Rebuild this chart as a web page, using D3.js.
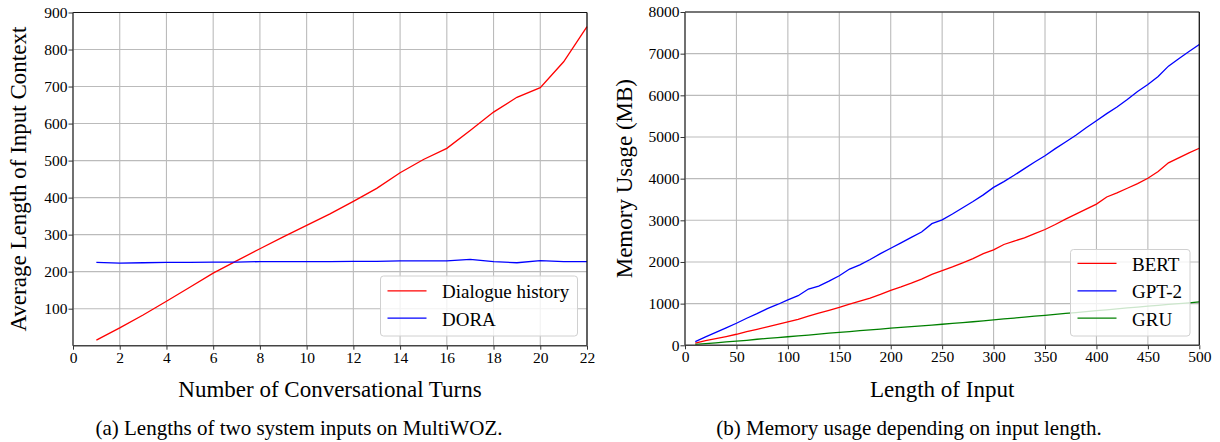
<!DOCTYPE html>
<html><head><meta charset="utf-8">
<script src="https://cdn.jsdelivr.net/npm/d3@7"></script>
<style>body{margin:0;background:#fff}svg{display:block}</style>
</head><body><svg id="c" width="1220" height="442" font-family="Liberation Serif"></svg>
<script>
// ---- Left chart data ----
const turns = [1,2,3,4,5,6,7,8,9,10,11,12,13,14,15,16,17,18,19,20,21,22];
const dialogueHistory = [15,48,83,120,158,196,229,262,294,325,356,390,425,467,503,533,581,631,671,697,767,862];
const dora = [225,223,224,225,225,226,226,227,227,227,227,228,228,229,229,229,233,227,224,230,227,227];
const leftXTicks = [0,2,4,6,8,10,12,14,16,18,20,22];
const leftYTicks = [100,200,300,400,500,600,700,800,900];

// ---- Right chart data ----
const inputLen = [10,20,30,40,50,60,70,80,90,100,110,120,130,140,150,160,170,180,190,200,210,220,230,240,250,260,270,280,290,300,310,320,330,340,350,360,370,380,390,400,410,420,430,440,450,460,470,480,490,500];
const bert = [50,110,160,210,265,330,385,440,500,565,625,700,770,840,910,990,1060,1130,1220,1320,1400,1490,1590,1700,1790,1880,1980,2080,2200,2290,2420,2500,2580,2680,2780,2900,3030,3150,3270,3390,3560,3660,3770,3880,4010,4170,4380,4500,4620,4730];
const gpt2 = [90,200,310,420,530,650,760,880,980,1090,1190,1350,1420,1540,1670,1830,1930,2060,2200,2330,2460,2590,2720,2920,3010,3150,3300,3450,3610,3790,3930,4080,4240,4400,4550,4720,4880,5040,5220,5390,5560,5720,5900,6090,6260,6450,6700,6880,7050,7220];
const gru = [20,40,60,80,100,120,145,165,185,205,225,245,270,290,310,330,350,370,390,410,430,450,465,485,505,525,545,565,588,610,632,654,676,698,720,742,764,786,808,830,852,874,896,918,940,960,980,1000,1020,1040];
const rightXTicks = [0,50,100,150,200,250,300,350,400,450,500];
const rightYTicks = [0,1000,2000,3000,4000,5000,6000,7000,8000];

const FONT = "Liberation Serif";
const svg = d3.select("#c");

function txt(sel, size) {
  return sel.attr("font-family", FONT).style("font-family", FONT).style("font-size", size + "px").attr("fill", "#000");
}

function panel(o) {
  const x = d3.scaleLinear().domain(o.xDomain).range([o.left, o.right]);
  const y = d3.scaleLinear().domain(o.yDomain).range([o.bottom, o.top]);
  const g = svg.append("g");
  g.selectAll(".gx").data(o.xTicks).enter().append("line")
    .attr("x1", d => x(d)).attr("x2", d => x(d)).attr("y1", o.top).attr("y2", o.bottom)
    .attr("stroke", "#bbbbbb").attr("stroke-width", 1.1);
  g.selectAll(".gy").data(o.yTicks).enter().append("line")
    .attr("x1", o.left).attr("x2", o.right).attr("y1", d => y(d)).attr("y2", d => y(d))
    .attr("stroke", "#bbbbbb").attr("stroke-width", 1.1);
  o.series.forEach(s => {
    const line = d3.line().x((d, i) => x(o.xs[i])).y(d => y(d));
    g.append("path").datum(s.values).attr("d", line).attr("fill", "none")
      .attr("stroke", s.color).attr("stroke-width", 1.3);
  });
  // spines: top/right black, left/bottom dark gray
  g.append("line").attr("x1", o.left).attr("x2", o.right).attr("y1", o.top).attr("y2", o.top).attr("stroke", "#111").attr("stroke-width", 1.2);
  g.append("line").attr("x1", o.right).attr("x2", o.right).attr("y1", o.top).attr("y2", o.bottom).attr("stroke", "#111").attr("stroke-width", 1.2);
  g.append("line").attr("x1", o.left).attr("x2", o.left).attr("y1", o.top).attr("y2", o.bottom).attr("stroke", "#444").attr("stroke-width", 1.4);
  g.append("line").attr("x1", o.left).attr("x2", o.right).attr("y1", o.bottom).attr("y2", o.bottom).attr("stroke", "#444").attr("stroke-width", 1.4);
  const ax = g.append("g").attr("transform", `translate(0,${o.bottom})`)
    .call(d3.axisBottom(x).tickValues(o.xTicks).tickSize(4).tickPadding(2).tickFormat(d3.format("d")));
  const ay = g.append("g").attr("transform", `translate(${o.left},0)`)
    .call(d3.axisLeft(y).tickValues(o.yTicks).tickSize(4.5).tickPadding(1).tickFormat(d3.format("d")));
  [ax, ay].forEach(a => {
    a.attr("font-family", FONT).attr("font-size", 15.5);
    a.select(".domain").remove();
    txt(a.selectAll("text"), 15.5);
    a.selectAll("line").attr("stroke", "#333");
  });
  txt(g.append("text").attr("x", (o.left + o.right) / 2).attr("y", 396.5).attr("text-anchor", "middle"), 23).text(o.xLabel);
  txt(g.append("text").attr("transform", `translate(${o.yLabelX},${(o.top + o.bottom) / 2}) rotate(-90)`)
    .attr("text-anchor", "middle"), 23).text(o.yLabel);
  txt(g.append("text").attr("x", o.capX).attr("y", 435).attr("text-anchor", "middle"), 21).text(o.caption);
  const L = o.legend;
  g.append("rect").attr("x", L.x).attr("y", L.y).attr("width", L.w).attr("height", L.h)
    .attr("rx", 3).attr("fill", "rgba(255,255,255,0.8)").attr("stroke", "#d0d0d0");
  o.series.forEach((s, i) => {
    const yy = L.firstRow + i * L.rowStep;
    g.append("line").attr("x1", L.x + 7).attr("x2", L.x + 46).attr("y1", yy).attr("y2", yy)
      .attr("stroke", s.color).attr("stroke-width", 1.3);
    txt(g.append("text").attr("x", L.x + 61.5).attr("y", yy + 7.3), 19).text(s.name);
  });
}

panel({
  left: 73, right: 587, top: 12.5, bottom: 345.7,
  xDomain: [0, 22], yDomain: [0, 900], xs: turns,
  xTicks: leftXTicks, yTicks: leftYTicks,
  series: [{name: "Dialogue history", values: dialogueHistory, color: "#ff0000"},
           {name: "DORA", values: dora, color: "#0000ff"}],
  xLabel: "Number of Conversational Turns", yLabel: "Average Length of Input Context", yLabelX: 26,
  caption: "(a) Lengths of two system inputs on MultiWOZ.", capX: 299,
  legend: {x: 380.5, y: 276, w: 197, h: 60, firstRow: 290.8, rowStep: 27.4}
});

panel({
  left: 685, right: 1199.3, top: 12, bottom: 345.3,
  xDomain: [0, 500], yDomain: [0, 8000], xs: inputLen,
  xTicks: rightXTicks, yTicks: rightYTicks,
  series: [{name: "BERT", values: bert, color: "#ff0000"},
           {name: "GPT-2", values: gpt2, color: "#0000ff"},
           {name: "GRU", values: gru, color: "#008000"}],
  xLabel: "Length of Input", yLabel: "Memory Usage (MB)", yLabelX: 632,
  caption: "(b) Memory usage depending on input length.", capX: 909,
  legend: {x: 1070.5, y: 249.5, w: 119.5, h: 86.5, firstRow: 263.4, rowStep: 27.4}
});
</script></body></html>
